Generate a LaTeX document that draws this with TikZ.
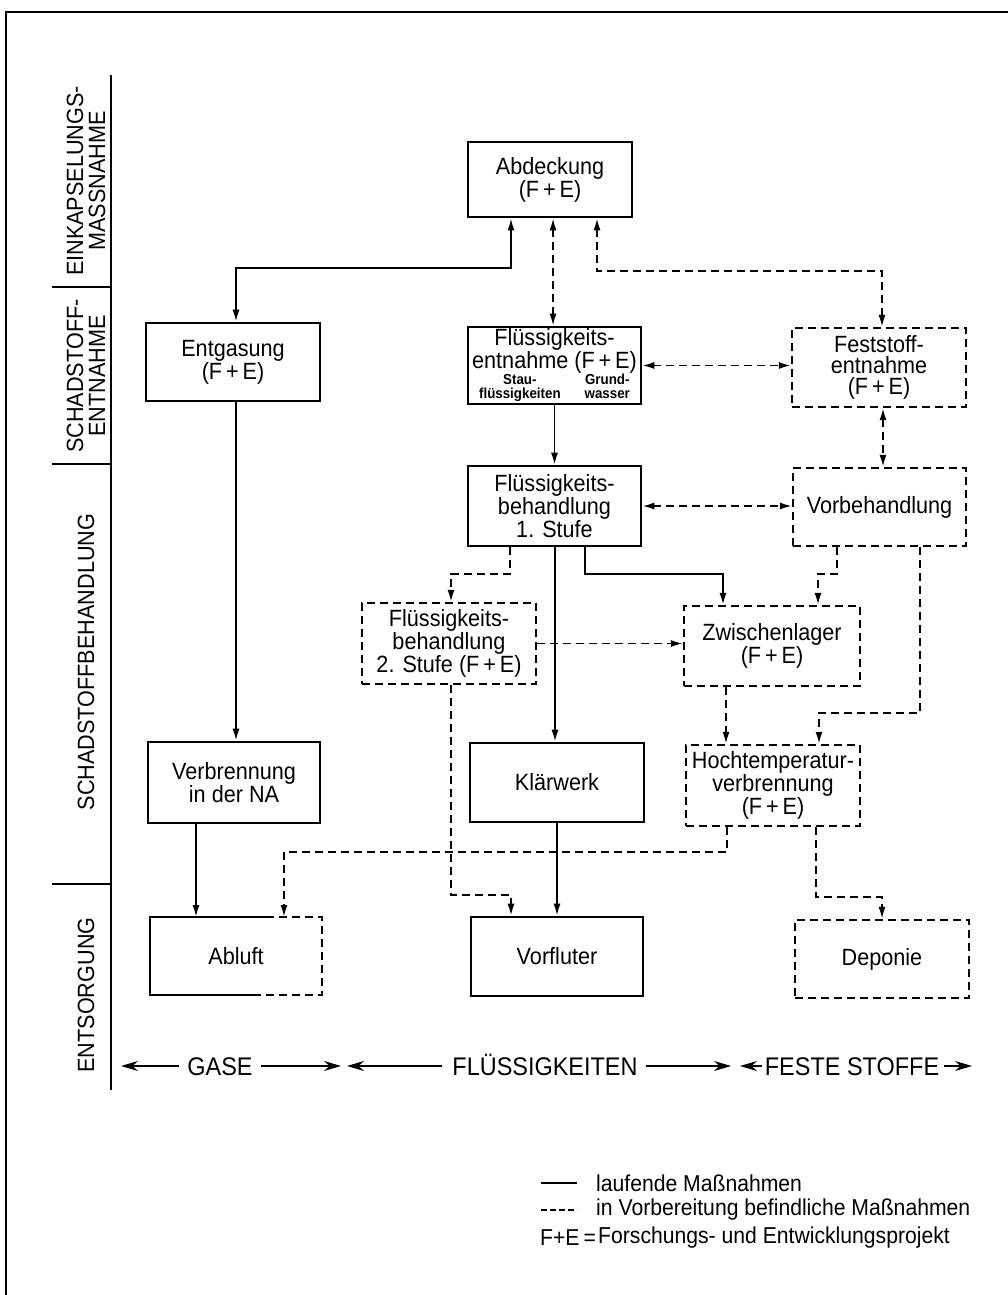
\documentclass[tikz,border=0pt]{standalone}
\usepackage{fontspec}
\setmainfont{Liberation Sans}[FakeStretch=0.92]
\usetikzlibrary{arrows.meta}
\newcommand\boxfont{\fontsize{23.5}{21}\selectfont}
\newcommand\tinyfont{\fontsize{14.5}{13}\selectfont\bfseries}
\newcommand\sidefont{\fontsize{23.5}{22}\selectfont}
\newcommand\rowfont{\fontsize{25.5}{25}\selectfont}
\newcommand\legfont{\fontsize{23}{24}\selectfont}
\begin{document}
\begin{tikzpicture}[x=1pt,y=-1pt,
  >={Latex[length=12pt,width=7pt]},
  box/.style={draw, line width=2.6pt, align=center, inner sep=0pt, font=\boxfont},
  dbox/.style={box, line width=2.2pt, dash pattern=on 8pt off 5pt},
  nbox/.style={align=center, inner sep=0pt, outer sep=0pt, font=\boxfont},
  sol/.style={line width=1.8pt},
  dsh/.style={line width=1.8pt, dash pattern=on 8pt off 5pt},
  side/.style={rotate=90, align=center, font=\sidefont, inner sep=0pt},
  rowtext/.style={font=\rowfont, inner sep=0pt, text height=18pt, text depth=0pt},
  rowarrow/.style={line width=1.6pt, -{Stealth[length=17pt,width=10pt]}},
  leg/.style={font=\legfont, inner sep=0pt, anchor=west}
]
\useasboundingbox (0,0) rectangle (1008,1295);
\fill[white] (0,0) rectangle (1008,1295);
% frame
\draw[line width=2.2pt] (6,1295) -- (6,12) -- (1008,12);
% side column
\draw[line width=2.2pt] (111,75) -- (111,1090);
\draw[line width=2pt] (52,287) -- (111,287);
\draw[line width=2pt] (52,464) -- (111,464);
\draw[line width=2pt] (52,884) -- (111,884);
\node[side] (s1) at (86,181) {EINKAPSELUNGS-\\MASSNAHME};
\node[side] (s2) at (86,376) {SCHADSTOFF-\\ENTNAHME};
\node[side] (s3) at (86,662) {SCHADSTOFFBEHANDLUNG};
\node[side] (s4) at (86,995) {ENTSORGUNG};

% nodes
\node[box, minimum width=164pt, minimum height=75pt] (abd) at (550,179.5) {Abdeckung\\(F\,+\,E)};
\node[box, minimum width=174pt, minimum height=78pt] (entg) at (233,362) {Entgasung\\(F\,+\,E)};
\node[box, minimum width=173pt, minimum height=77pt] (fentn) at (554.5,365.5) {Flüssigkeits-\\entnahme (F\,+\,E)\\[-1pt]{\tinyfont\begin{tabular}{@{}c@{\hspace{24pt}}c@{}}Stau-&Grund-\\flüssigkeiten&wasser\end{tabular}}};
\node[dbox, minimum width=174pt, minimum height=79pt] (fest) at (879,367.5) {Feststoff-\\entnahme\\(F\,+\,E)};
\node[box, minimum width=173pt, minimum height=80pt] (fb1) at (554.5,506) {Flüssigkeits-\\behandlung\\1. Stufe};
\node[dbox, minimum width=173pt, minimum height=78pt] (vorb) at (879.5,507) {Vorbehandlung};
\node[dbox, minimum width=174pt, minimum height=81pt] (fb2) at (449,643.5) {Flüssigkeits-\\behandlung\\2. Stufe (F\,+\,E)};
\node[dbox, minimum width=176pt, minimum height=80pt] (zw) at (772,646) {Zwischenlager\\(F\,+\,E)};
\node[box, minimum width=172pt, minimum height=81pt] (verbr) at (234,782.5) {Verbrennung\\in der NA};
\node[box, minimum width=174pt, minimum height=79pt] (klaer) at (557,782.5) {Klärwerk};
\node[dbox, minimum width=174pt, minimum height=81pt] (hoch) at (773,785.5) {Hochtemperatur-\\verbrennung\\(F\,+\,E)};
\node[nbox, minimum width=172pt, minimum height=78pt] (abl) at (236,956) {Abluft};
\node[box, minimum width=172pt, minimum height=79pt] (vorf) at (557,956.5) {Vorfluter};
\node[dbox, minimum width=174pt, minimum height=78pt] (dep) at (882,959) {Deponie};
% Abluft border: half solid, half dashed
\draw[line width=2.6pt, line join=miter] ([xshift=30pt]abl.north) -- (abl.north west) -- (abl.south west) -- ([xshift=20pt]abl.south);
\draw[line width=2.2pt, line join=miter, dash pattern=on 8pt off 5pt] ([xshift=30pt]abl.north) -- (abl.north east) -- (abl.south east) -- ([xshift=20pt]abl.south);

% connectors
\draw[sol,<->] ([xshift=3pt]entg.north) |- (511,268) -- ([xshift=-39pt]abd.south);
\draw[dsh,<->] ([xshift=3pt]abd.south) -- ([xshift=-1.5pt]fentn.north);
\draw[dsh,<->] ([xshift=47pt]abd.south) -- (597,271) -| ([xshift=3pt]fest.north);
\draw[dsh,<->] (fentn.east) -- (fentn.east -| fest.west);
\draw[dsh,<->] ([xshift=4pt]fest.south) -- ([xshift=3.5pt]vorb.north);
\draw[dsh,<->] (fb1.east) -- (fb1.east -| vorb.west);
\draw[sol,->] (fentn.south) -- (fb1.north);
\draw[sol,->] ([xshift=3pt]entg.south) -- ([xshift=2pt]verbr.north);
\draw[dsh,->] ([xshift=-44.5pt]fb1.south) -- (510,574) -| ([xshift=2pt]fb2.north);
\draw[sol,->] ([xshift=0.5pt]fb1.south) -- ([xshift=-2pt]klaer.north);
\draw[sol,->] ([xshift=30.5pt]fb1.south) -- (585,574) -| ([xshift=-49pt]zw.north);
\draw[dsh,->] ([xshift=-42.5pt]vorb.south) -- (837,574) -| ([xshift=46pt]zw.north);
\draw[dsh,->] (fb2.east) -- (fb2.east -| zw.west);
\draw[dsh,->] ([xshift=-46pt]zw.south) -- ([xshift=-47pt]hoch.north);
\draw[dsh,->] ([xshift=40.5pt]vorb.south) -- (920,713) -| ([xshift=46pt]hoch.north);
\draw[dsh,->] ([xshift=2pt]fb2.south) -- (451,895) -| ([xshift=-46pt]vorf.north);
\draw[sol,->] (klaer.south) -- (vorf.north);
\draw[sol,->] ([xshift=-38pt]verbr.south) -- ([xshift=-40pt]abl.north);
\draw[dsh,->] ([xshift=-46pt]hoch.south) -- (727,852) -| ([xshift=48pt]abl.north);
\draw[dsh,->] ([xshift=43pt]hoch.south) -- (816,897) -| (dep.north);

% bottom row
\node[rowtext] (gase) at (220,1066) {GASE};
\node[rowtext] (fl) at (545,1066) {FLÜSSIGKEITEN};
\node[rowtext] (fs) at (852,1066) {FESTE STOFFE};
\coordinate (g1) at (121,1066);
\coordinate (g2) at (341,1066);
\coordinate (f1) at (347,1066);
\coordinate (f2) at (731,1066);
\coordinate (s1a) at (740,1066);
\coordinate (s2a) at (972,1066);
\draw[rowarrow] ([xshift=-8pt]gase.west) -- (g1);
\draw[rowarrow] ([xshift=8pt]gase.east) -- (g2);
\draw[rowarrow] ([xshift=-10pt]fl.west) -- (f1);
\draw[rowarrow] ([xshift=8pt]fl.east) -- (f2);
\draw[rowarrow] ([xshift=-3pt]fs.west) -- (s1a);
\draw[rowarrow] ([xshift=5pt]fs.east) -- (s2a);

% legend
\coordinate (l1a) at (541,1183); \coordinate (l1b) at (577,1183);
\coordinate (l2a) at (541,1210); \coordinate (l2b) at (577,1210);
\draw[line width=1.5pt] (l1a) -- (l1b);
\draw[line width=1.5pt, dash pattern=on 6pt off 3pt] (l2a) -- (l2b);
\node[leg] (t1) at (596,1183) {laufende Maßnahmen};
\node[leg] (t2) at (596,1210) {in Vorbereitung befindliche Maßnahmen};
\node[leg] (t3a) at (540,1238) {F{+}E\kern4pt=};
\node[leg] (t3) at (598,1238) {Forschungs- und Entwicklungsprojekt};
\end{tikzpicture}
\end{document}
